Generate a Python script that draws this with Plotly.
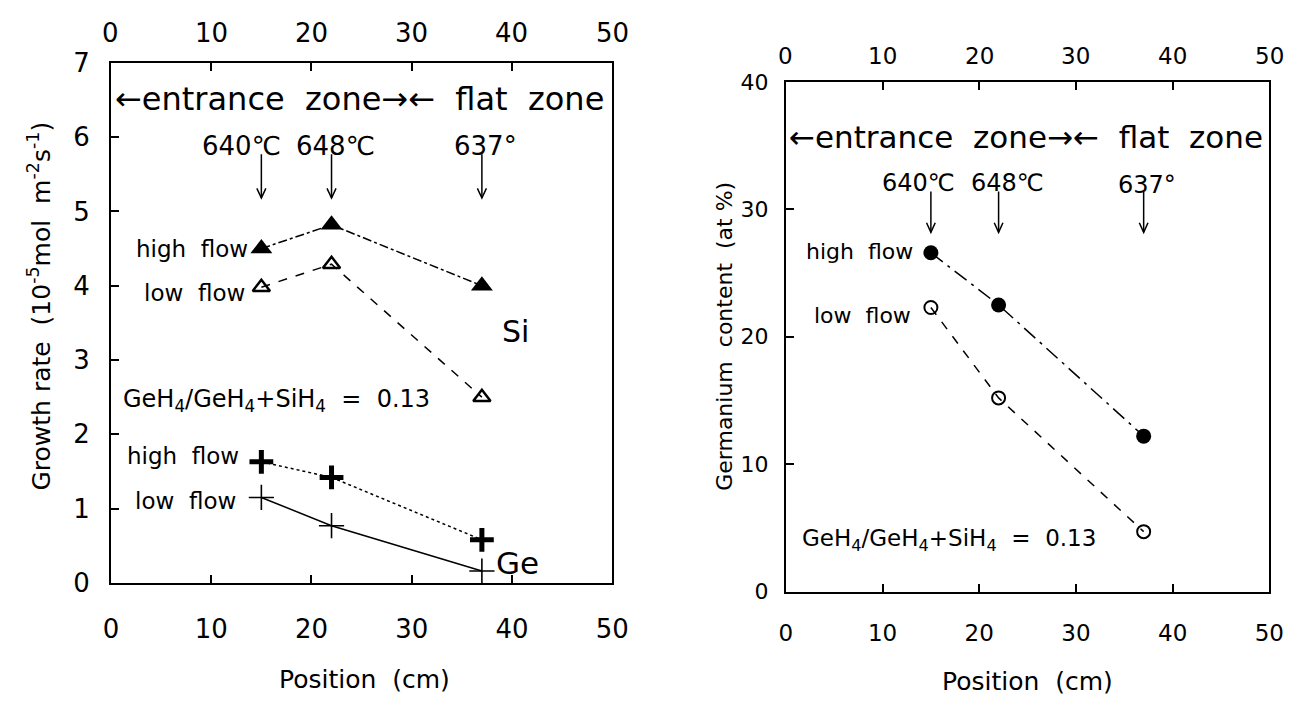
import plotly.graph_objects as go

# ---------------- data ----------------
position = [15, 22, 37]

si_high = [4.50, 4.82, 4.00]
si_low = [3.98, 4.29, 2.50]
ge_high = [1.63, 1.42, 0.58]
ge_low = [1.15, 0.77, 0.16]

gec_high = [26.6, 22.5, 12.2]
gec_low = [22.3, 15.2, 4.7]

x_ticks = [0, 10, 20, 30, 40, 50]
y1_ticks = [0, 1, 2, 3, 4, 5, 6, 7]
y2_ticks = [0, 10, 20, 30, 40]

temps = ["640℃", "648℃", "637°"]

FONT = "DejaVu Sans"
BLACK = "#000000"

fig = go.Figure()

# ---- left panel: growth rate ----
fig.add_trace(go.Scatter(x=position, y=si_high, mode="lines+markers",
                         line=dict(color=BLACK, width=1.5, dash="dashdot"),
                         marker=dict(symbol="triangle-up", size=19, color=BLACK),
                         xaxis="x", yaxis="y", showlegend=False))
fig.add_trace(go.Scatter(x=position, y=si_low, mode="lines+markers",
                         line=dict(color=BLACK, width=1.5, dash="dash"),
                         marker=dict(symbol="triangle-up-open", size=15, color=BLACK,
                                     line=dict(width=2.5, color=BLACK)),
                         xaxis="x", yaxis="y", showlegend=False))
fig.add_trace(go.Scatter(x=position, y=ge_high, mode="lines+markers",
                         line=dict(color=BLACK, width=1.5, dash="dot"),
                         marker=dict(symbol="cross-thin", size=17, color=BLACK,
                                     line=dict(width=5, color=BLACK)),
                         xaxis="x", yaxis="y", showlegend=False))
fig.add_trace(go.Scatter(x=position, y=ge_low, mode="lines+markers",
                         line=dict(color=BLACK, width=1.5),
                         marker=dict(symbol="cross-thin", size=18, color=BLACK,
                                     line=dict(width=1.6, color=BLACK)),
                         xaxis="x", yaxis="y", showlegend=False))

# ---- right panel: germanium content ----
fig.add_trace(go.Scatter(x=position, y=gec_high, mode="lines+markers",
                         line=dict(color=BLACK, width=1.5, dash="longdashdot"),
                         marker=dict(symbol="circle", size=15, color=BLACK),
                         xaxis="x2", yaxis="y2", showlegend=False))
fig.add_trace(go.Scatter(x=position, y=gec_low, mode="lines+markers",
                         line=dict(color=BLACK, width=1.5, dash="dash"),
                         marker=dict(symbol="circle-open", size=13, color=BLACK,
                                     line=dict(width=2, color=BLACK)),
                         xaxis="x2", yaxis="y2", showlegend=False))

W, H = 1306, 709
L1 = [105 / W, 616 / W]
B1 = [1 - 593 / H, 1 - 50 / H]
L2 = [793 / W, 1286 / W]
B2 = [1 - 602 / H, 1 - 70 / H]

axis_common = dict(showline=True, linecolor=BLACK, linewidth=2, ticks="inside",
                   ticklen=8, tickwidth=1.5, tickcolor=BLACK, showgrid=False,
                   zeroline=False)

fig.update_layout(
    width=W, height=H,
    margin=dict(l=0, r=0, t=0, b=0),
    paper_bgcolor="white", plot_bgcolor="white",
    font=dict(family=FONT, color=BLACK, size=22),
    hovermode=False,
    xaxis=dict(domain=L1, range=[0, 50], tickvals=x_ticks, anchor="y", mirror="ticks",
               tickfont=dict(size=26), ticklabelstandoff=22, **axis_common),
    yaxis=dict(domain=B1, range=[0, 7], tickvals=y1_ticks, anchor="x",
               mirror=True, tickfont=dict(size=26), ticklabelstandoff=14, **axis_common),
    xaxis2=dict(domain=L2, range=[0, 50], tickvals=x_ticks, anchor="y2", mirror="ticks",
                tickfont=dict(size=23), ticklabelstandoff=20, **axis_common),
    yaxis2=dict(domain=B2, range=[0, 40], tickvals=y2_ticks, anchor="x2",
                mirror=True, tickfont=dict(size=22), ticklabelstandoff=11, **axis_common),
)

ann = []
shapes = []

def txt(x, y, s, size, xref, yref, xanchor="center", yanchor="middle", yshift=0):
    ann.append(dict(x=x, y=y, text=s, xref=xref, yref=yref, showarrow=False,
                    font=dict(size=size, family=FONT, color=BLACK),
                    xanchor=xanchor, yanchor=yanchor, yshift=yshift))

def arrow(x, y0, y1, xref, yref, dx, dy):
    line = dict(color=BLACK, width=1.5)
    shapes.append(dict(type="line", x0=x, x1=x, y0=y0, y1=y1, xref=xref, yref=yref, line=line))
    shapes.append(dict(type="path", xref=xref, yref=yref, line=line,
                       path=f"M {x - dx},{y1 + dy} L {x},{y1} L {x + dx},{y1 + dy}"))

# top tick labels (secondary scale, same values)
for t in x_ticks:
    txt(t, B1[1], str(t), 26, "x", "paper", yanchor="bottom", yshift=13)
    txt(t, B2[1], str(t), 23, "x2", "paper", yanchor="bottom", yshift=11)

# left panel annotations
txt(0.2, 6.52, "←entrance  zone→←  flat  zone", 32, "x", "y", xanchor="left")
for xp, t, cx in zip(position, temps, [13.0, 22.4, 37.4]):
    txt(cx, 5.88, t, 26, "x", "y")
    arrow(xp, 5.77, 5.18, "x", "y", 0.45, 0.13)
txt(13.9, 4.50, "high  flow", 23, "x", "y", xanchor="right")
txt(13.6, 3.90, "low  flow", 23, "x", "y", xanchor="right")
txt(38.8, 3.38, "Si", 30, "x", "y", xanchor="left")
txt(1.0, 2.46, "GeH<sub>4</sub>/GeH<sub>4</sub>+SiH<sub>4</sub>  =  0.13", 24, "x", "y", xanchor="left")
txt(13.0, 1.71, "high  flow", 23, "x", "y", xanchor="right")
txt(12.7, 1.10, "low  flow", 23, "x", "y", xanchor="right")
txt(38.2, 0.27, "Ge", 31, "x", "y", xanchor="left")

# right panel annotations
txt(0.1, 35.7, "←entrance  zone→←  flat  zone", 31, "x2", "y2", xanchor="left")
for xp, t, cx, yy in zip(position, temps, [13.7, 22.9, 37.3], [32.1, 32.1, 31.9]):
    txt(cx, yy, t, 24, "x2", "y2")
    arrow(xp, 31.4, 28.2, "x2", "y2", 0.45, 0.75)
txt(13.4, 26.7, "high  flow", 22, "x2", "y2", xanchor="right")
txt(13.1, 21.7, "low  flow", 22, "x2", "y2", xanchor="right")
txt(1.5, 4.06, "GeH<sub>4</sub>/GeH<sub>4</sub>+SiH<sub>4</sub>  =  0.13", 23, "x2", "y2", xanchor="left")

# axis titles
txt(32 / W, 1 - 304 / H, "Growth rate  (10<sup>-5</sup>mol  m<sup>-2</sup>s<sup>-1</sup>)", 25, "paper", "paper")
ann[-1]["textangle"] = -90
txt(731 / W, 1 - 336 / H, "Germanium  content  (at %)", 22, "paper", "paper")
ann[-1]["textangle"] = -90
txt(363 / W, 1 - 694 / H, "Position  (cm)", 25, "paper", "paper")
txt(1039 / W, 1 - 696 / H, "Position  (cm)", 25, "paper", "paper")

fig.update_layout(annotations=ann, shapes=shapes)

fig.write_html("out.html", config={"displayModeBar": False})
